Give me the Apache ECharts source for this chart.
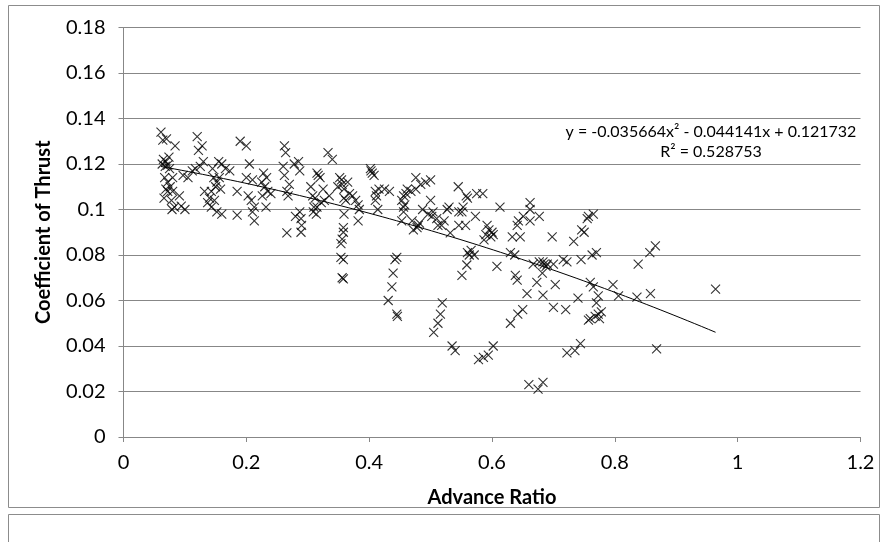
<!DOCTYPE html>
<html>
<head>
<meta charset="utf-8">
<script src="https://cdn.jsdelivr.net/npm/echarts@6/dist/echarts.min.js"></script>
<style>
  html, body { margin: 0; padding: 0; background: #fff; }
  #chart { width: 888px; height: 542px; }
</style>
</head>
<body>
<div id="chart"></div>
<script>
// Measured propeller samples: advance ratio J and thrust coefficient CT
const advanceRatio = [
  0.061,0.064,0.070,0.084,0.065,0.069,0.072,0.068,0.075,0.063,0.074,0.067,0.072,0.080,0.076,0.069,0.072,0.080,0.091,0.066,
  0.078,0.083,0.094,0.100,0.079,0.097,0.105,0.120,0.128,0.122,0.130,0.125,0.117,0.112,0.145,0.155,0.160,0.166,0.173,0.147,
  0.152,0.150,0.158,0.143,0.156,0.132,0.140,0.137,0.148,0.143,0.152,0.160,0.185,0.185,0.190,0.200,0.205,0.200,0.210,0.203,
  0.208,0.213,0.210,0.213,0.232,0.228,0.233,0.225,0.230,0.235,0.226,0.240,0.262,0.264,0.260,0.262,0.270,0.266,0.268,0.278,
  0.266,0.280,
  0.333,0.340,0.285,0.287,0.317,0.320,0.315,0.305,0.308,0.312,0.315,0.310,0.309,0.314,0.325,0.327,0.335,0.322,0.287,0.289,
  0.290,0.289,0.352,0.356,0.359,0.365,0.349,0.355,0.359,0.362,0.359,0.368,0.373,0.378,0.382,0.384,0.382,0.358,0.358,0.356,
  0.354,0.354,0.402,0.405,0.408,0.403,0.410,0.412,0.416,0.410,0.414,0.425,0.433,0.456,0.453,0.458,0.456,0.456,0.460,0.462,
  0.453,0.445,0.468,0.476,0.484,0.492,0.500,0.476,0.487,0.500,0.496,0.502,0.504,0.510,0.512,0.470,0.472,0.480,0.482,0.478,
  0.545,0.558,0.560,0.575,0.585,0.530,0.527,0.551,0.553,0.546,0.573,0.522,0.518,0.546,0.557,0.532,0.592,0.595,0.600,0.602,
  0.590,0.598,0.587,0.613,0.633,0.646,0.641,0.643,0.651,0.662,0.677,0.662,0.662,0.698,0.733,0.746,0.755,0.560,0.566,0.571,
  0.563,0.630,0.637,0.683,0.690,0.716,0.722,0.745,
  0.757,0.765,0.750,0.763,0.770,0.857,0.866,0.838,
  0.358,0.356,0.358,0.442,0.439,0.437,0.431,0.445,0.446,0.519,0.516,0.512,0.505,0.559,0.551,0.608,0.638,0.641,0.667,0.677,
  0.685,0.688,0.700,0.673,0.682,0.703,0.657,0.683,0.740,0.757,0.700,0.720,0.650,0.642,0.630,0.535,0.540,0.578,0.586,0.594,
  0.602,0.722,0.735,0.744,0.660,0.675,0.683,0.760,0.765,0.773,0.770,0.778,0.760,0.768,0.773,0.775,0.797,0.806,0.836,0.858,
  0.964,0.868
];
const thrustCoef = [
  0.134,0.1305,0.131,0.128,0.122,0.121,0.1195,0.119,0.118,0.120,0.123,0.114,0.112,0.114,0.110,0.109,0.108,0.108,0.106,0.105,
  0.104,0.101,0.1015,0.100,0.100,0.115,0.114,0.132,0.128,0.126,0.121,0.119,0.118,0.117,0.118,0.121,0.120,0.118,0.117,0.114,
  0.112,0.110,0.109,0.108,0.114,0.108,0.105,0.103,0.104,0.101,0.099,0.098,0.108,0.0975,0.130,0.128,0.120,0.114,0.113,0.106,
  0.104,0.101,0.099,0.095,0.101,0.116,0.114,0.112,0.110,0.108,0.106,0.107,0.128,0.125,0.119,0.115,0.111,0.108,0.106,0.120,
  0.0897,0.097,
  0.125,0.122,0.121,0.117,0.115,0.114,0.116,0.110,0.106,0.105,0.101,0.101,0.099,0.098,0.109,0.104,0.106,0.103,0.099,0.096,
  0.093,0.090,0.114,0.111,0.109,0.112,0.110,0.113,0.105,0.104,0.098,0.107,0.106,0.104,0.102,0.100,0.095,0.092,0.090,0.087,
  0.085,0.079,0.118,0.116,0.115,0.117,0.108,0.106,0.109,0.104,0.100,0.109,0.108,0.106,0.104,0.102,0.101,0.099,0.107,0.109,
  0.095,0.079,0.108,0.109,0.111,0.112,0.113,0.114,0.100,0.104,0.098,0.097,0.099,0.096,0.093,0.095,0.091,0.093,0.094,0.092,
  0.110,0.106,0.105,0.107,0.107,0.101,0.100,0.099,0.101,0.099,0.097,0.095,0.093,0.093,0.093,0.0897,0.093,0.091,0.090,0.089,
  0.089,0.088,0.0866,0.101,0.088,0.088,0.093,0.095,0.097,0.095,0.097,0.103,0.100,0.088,0.086,0.091,0.096,0.081,0.082,0.080,
  0.080,0.081,0.080,0.077,0.076,0.078,0.077,0.078,
  0.097,0.098,0.090,0.080,0.081,0.081,0.084,0.076,
  0.078,0.070,0.0695,0.078,0.072,0.066,0.060,0.054,0.053,0.059,0.054,0.050,0.046,0.0756,0.071,0.075,0.071,0.069,0.076,0.077,
  0.076,0.075,0.076,0.068,0.072,0.067,0.063,0.0624,0.061,0.0514,0.057,0.056,0.056,0.054,0.050,0.040,0.038,0.034,0.035,0.036,
  0.040,0.037,0.038,0.041,0.023,0.021,0.024,0.068,0.066,0.062,0.059,0.055,0.052,0.053,0.054,0.052,0.067,0.062,0.0615,0.063,
  0.065,0.0387
];

// Quadratic trendline: CT = a*J^2 + b*J + c
const fitCoef = [-0.035664, -0.044141, 0.121732];
const fitRSquared = '0.528753';
const xTicks = [0, 0.2, 0.4, 0.6, 0.8, 1, 1.2];
const yTicks = [0, 0.02, 0.04, 0.06, 0.08, 0.1, 0.12, 0.14, 0.16, 0.18];

const samples = advanceRatio.map((j, i) => [j, thrustCoef[i]]);
const jMin = Math.min(...advanceRatio);
const jMax = Math.max(...advanceRatio);
const fitCurve = [];
for (let k = 0; k <= 80; k++) {
  const j = jMin + (jMax - jMin) * k / 80;
  fitCurve.push([j, fitCoef[0] * j * j + fitCoef[1] * j + fitCoef[2]]);
}

const fmt = v => Math.abs(v).toFixed(6);
const eqText = 'y = ' + (fitCoef[0] < 0 ? '-' : '') + fmt(fitCoef[0]) + 'x\u00B2 ' +
  (fitCoef[1] < 0 ? '- ' : '+ ') + fmt(fitCoef[1]) + 'x ' +
  (fitCoef[2] < 0 ? '- ' : '+ ') + fmt(fitCoef[2]);

const FONT = 'Lato, "Open Sans", sans-serif';
const GRID = '#878787';

const chart = echarts.init(document.getElementById('chart'), null, { renderer: 'canvas' });
chart.setOption({
  animation: false,
  backgroundColor: '#fff',
  grid: { left: 123.5, right: 27.5, top: 27.5, bottom: 105 },
  xAxis: {
    type: 'value',
    min: xTicks[0], max: xTicks[xTicks.length - 1], interval: 0.2,
    name: 'Advance Ratio',
    nameLocation: 'middle', nameGap: 51,
    nameTextStyle: { fontFamily: FONT, fontSize: 20, fontWeight: 'bold', color: '#000' },
    axisLine: { show: true, lineStyle: { color: GRID, width: 1 } },
    axisTick: { show: true, inside: false, length: 5, lineStyle: { color: GRID } },
    axisLabel: { fontFamily: FONT, fontSize: 20, color: '#000', margin: 16 },
    splitLine: { show: false }
  },
  yAxis: {
    type: 'value',
    min: yTicks[0], max: yTicks[yTicks.length - 1], interval: 0.02,
    name: 'Coefficient of Thrust',
    nameLocation: 'middle', nameGap: 70, nameRotate: 90,
    nameTextStyle: { fontFamily: FONT, fontSize: 20, fontWeight: 'bold', color: '#000' },
    axisLine: { show: true, lineStyle: { color: GRID, width: 1 } },
    axisTick: { show: true, inside: false, length: 5, lineStyle: { color: GRID } },
    axisLabel: { fontFamily: FONT, fontSize: 20, color: '#000', margin: 18 },
    splitLine: { show: true, lineStyle: { color: GRID, width: 1 } }
  },
  graphic: [
    { type: 'rect', shape: { x: 8.5, y: 5.5, width: 871, height: 502 },
      style: { fill: 'none', stroke: '#8c8c8c', lineWidth: 1 }, silent: true, z: -1 },
    { type: 'polyline', shape: { points: [[8.5, 542], [8.5, 514.5], [879.5, 514.5], [879.5, 542]] },
      style: { fill: 'none', stroke: '#8c8c8c', lineWidth: 1 }, silent: true, z: -1 },
    { type: 'text', x: 711, y: 122,
      style: { text: eqText + '\nR\u00B2 = ' + fitRSquared, align: 'center', verticalAlign: 'top',
               font: '16px ' + FONT, fill: '#000', lineHeight: 20 }, z: 10 }
  ],
  series: [
    {
      type: 'scatter',
      data: samples,
      symbol: 'path://M0,0L10,10M10,0L0,10',
      symbolSize: 9,
      itemStyle: { color: 'rgba(0,0,0,0)', borderColor: '#000', borderWidth: 1.1 },
      z: 3
    },
    {
      type: 'line',
      data: fitCurve,
      showSymbol: false,
      smooth: false,
      lineStyle: { color: '#000', width: 1 },
      z: 4
    }
  ]
});
</script>
</body>
</html>
